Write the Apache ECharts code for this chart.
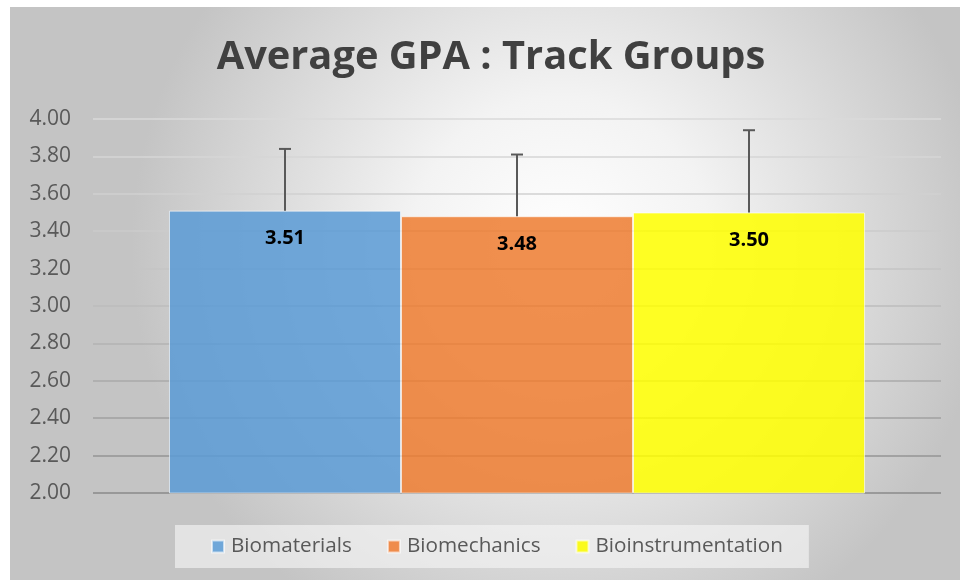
<!DOCTYPE html>
<html>
<head>
<meta charset="utf-8">
<script src="https://cdn.jsdelivr.net/npm/echarts@6/dist/echarts.min.js"></script>
<style>
  html, body { margin: 0; padding: 0; background: #fff; }
  #div_chart { position: absolute; left: 10px; top: 7px; width: 950px; height: 573px; }
</style>
</head>
<body>
<div id="div_chart"></div>
<script>
// data
var trackNames = ['Biomaterials', 'Biomechanics', 'Bioinstrumentation'];
var avgGpa = [3.51, 3.48, 3.50];
var errUpper = [3.84, 3.81, 3.94];
var yTicks = [2.0, 2.2, 2.4, 2.6, 2.8, 3.0, 3.2, 3.4, 3.6, 3.8, 4.0];

var colors = ['rgba(91,155,213,0.86)', 'rgba(237,125,49,0.86)', 'rgba(255,255,0,0.86)'];
var legendColors = ['#6fa7d9', '#ef8c4c', '#fafa1e'];
var BAR_W = 232;

var myChart = echarts.init(document.getElementById('div_chart'));

var dataSeries = [];
for (let i = 0; i < trackNames.length; i++) {
    dataSeries.push({
        name: trackNames[i],
        type: 'bar',
        barWidth: BAR_W,
        barGap: '0%',
        data: [avgGpa[i]],
        itemStyle: {
            color: colors[i],
            borderColor: 'rgba(255,255,255,0.6)',
            borderWidth: 1
        },
        label: {
            show: true,
            position: 'insideTop',
            distance: 18,
            formatter: function (p) { return p.value.toFixed(2); },
            color: '#000',
            fontFamily: 'Open Sans',
            fontWeight: 'bold',
            fontSize: 20
        },
        z: 2
    });
}

// error bars (upper only)
var errData = [];
for (let i = 0; i < trackNames.length; i++) {
    errData.push([0, avgGpa[i], errUpper[i], i]);
}
dataSeries.push({
    type: 'custom',
    name: 'err',
    data: errData,
    z: 5,
    silent: true,
    renderItem: function (params, api) {
        var idx = api.value(3);
        var off = (idx - 1) * BAR_W;
        var p0 = api.coord([api.value(0), api.value(1)]);
        var p1 = api.coord([api.value(0), api.value(2)]);
        var x = p0[0] + off;
        var style = { stroke: '#595959', lineWidth: 2 };
        return {
            type: 'group',
            children: [
                { type: 'line', shape: { x1: x, y1: p0[1], x2: x, y2: p1[1] }, style: style },
                { type: 'line', shape: { x1: x - 6, y1: p1[1], x2: x + 6, y2: p1[1] }, style: style }
            ]
        };
    }
});

// gridlines get darker toward the bottom
var gridColors = ['#8a8a8a', '#959595', '#a0a0a0', '#aaaaaa', '#b3b3b3', '#bcbcbc', '#c4c4c4', '#cbcbcb', '#d1d1d1', '#d6d6d6', '#dadada'];

var option = {
    backgroundColor: {
        type: 'radial',
        x: 0.58, y: 0.42, r: 0.75,
        colorStops: [
            { offset: 0, color: '#ffffff' },
            { offset: 0.35, color: '#f3f3f3' },
            { offset: 1, color: '#c4c4c4' }
        ]
    },
    title: {
        text: 'Average GPA : Track Groups',
        left: 481,
        textAlign: 'center',
        top: 31,
        padding: 0,
        textStyle: {
            fontFamily: 'Open Sans',
            fontWeight: 'bold',
            fontSize: 39.8,
            color: '#404040'
        }
    },
    legend: {
        data: trackNames.map(function (n, i) {
            return { name: n, itemStyle: { color: legendColors[i] } };
        }),
        left: 165,
        bottom: 12,
        itemWidth: 12,
        itemHeight: 12,
        itemGap: 35,
        icon: 'rect',
        padding: [11, 26, 11, 36],
        backgroundColor: 'rgba(245,245,245,0.65)',
        textStyle: {
            fontFamily: 'Open Sans',
            fontSize: 20.7,
            color: '#595959',
            padding: [0, 0, 0, 2]
        }
    },
    grid: {
        left: 83,
        right: 19,
        top: 112,
        bottom: 87,
        containLabel: false
    },
    xAxis: {
        type: 'category',
        data: [''],
        axisLine: { show: false },
        axisTick: { show: false },
        axisLabel: { show: false }
    },
    yAxis: {
        type: 'value',
        min: yTicks[0],
        max: yTicks[yTicks.length - 1],
        interval: 0.2,
        axisLine: { show: false },
        axisTick: { show: false },
        axisLabel: {
            margin: 22,
            fontFamily: 'Open Sans',
            fontSize: 21,
            color: '#595959',
            formatter: function (v) { return v.toFixed(2); }
        },
        splitLine: {
            lineStyle: { color: gridColors, width: 1.5 }
        }
    },
    series: dataSeries
};
myChart.setOption(option);
</script>
</body>
</html>
